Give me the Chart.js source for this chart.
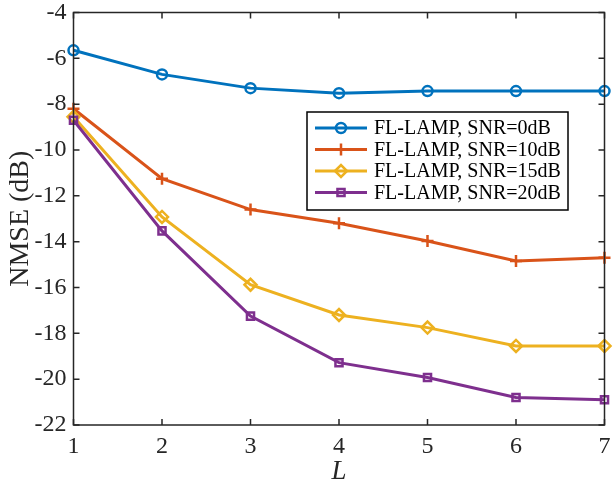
<!DOCTYPE html>
<html>
<head>
<meta charset="utf-8">
<script src="https://cdn.jsdelivr.net/npm/chart.js@4/dist/chart.umd.min.js"></script>
<style>
  html, body { margin: 0; padding: 0; background: #fff; }
  #wrap { width: 615px; height: 482px; }
</style>
</head>
<body>
<div id="wrap"><canvas id="myChart" width="615" height="482"></canvas></div>
<script>
// NMSE (dB) vs L
var L = [1, 2, 3, 4, 5, 6, 7];
var snr0  = [-5.65, -6.7, -7.3, -7.52, -7.43, -7.43, -7.43];
var snr10 = [-8.2, -11.25, -12.6, -13.2, -13.97, -14.84, -14.7];
var snr15 = [-8.55, -12.92, -15.88, -17.2, -17.75, -18.55, -18.55];
var snr20 = [-8.7, -13.53, -17.25, -19.28, -19.93, -20.8, -20.9];
var labels = ['FL-LAMP, SNR=0dB', 'FL-LAMP, SNR=10dB', 'FL-LAMP, SNR=15dB', 'FL-LAMP, SNR=20dB'];
var yTicks = [-22, -20, -18, -16, -14, -12, -10, -8, -6, -4];

var serif = "'Liberation Serif', 'Times New Roman', serif";

function pts(arr) {
    return L.map(function (x, i) { return { x: x, y: arr[i] }; });
}

function series(label, data, color, style, radius, order) {
    return {
        label: label,
        data: pts(data),
        borderColor: color,
        backgroundColor: color,
        borderWidth: 3,
        pointStyle: style,
        pointRadius: radius,
        pointHoverRadius: radius,
        pointBorderWidth: 2.5,
        pointBorderColor: color,
        pointBackgroundColor: 'rgba(0,0,0,0)',
        clip: false,
        order: order
    };
}

// box + inward ticks on all four sides, MATLAB style
var boxPlugin = {
    id: 'box',
    afterDatasetsDraw: function (chart) {
        var ctx = chart.ctx, a = chart.chartArea;
        var xs = chart.scales.x, ys = chart.scales.y;
        ctx.save();
        ctx.strokeStyle = '#262626';
        ctx.lineWidth = 1.5;
        ctx.strokeRect(a.left, a.top, a.right - a.left, a.bottom - a.top);
        ctx.beginPath();
        L.forEach(function (v) {
            var px = xs.getPixelForValue(v);
            ctx.moveTo(px, a.bottom); ctx.lineTo(px, a.bottom - 6);
            ctx.moveTo(px, a.top); ctx.lineTo(px, a.top + 6);
        });
        yTicks.forEach(function (v) {
            var py = ys.getPixelForValue(v);
            ctx.moveTo(a.left, py); ctx.lineTo(a.left + 6, py);
            ctx.moveTo(a.right, py); ctx.lineTo(a.right - 6, py);
        });
        ctx.stroke();
        ctx.restore();
    }
};

// legend box inside the plot
var legendPlugin = {
    id: 'boxLegend',
    afterDraw: function (chart) {
        var ctx = chart.ctx;
        var x0 = 307, y0 = 112, w = 261, h = 98;
        ctx.save();
        ctx.fillStyle = '#fff';
        ctx.fillRect(x0, y0, w, h);
        ctx.strokeStyle = '#000';
        ctx.lineWidth = 1.5;
        ctx.strokeRect(x0, y0, w, h);
        chart.data.datasets.forEach(function (ds, i) {
            var y = 128 + i * 21.5;
            ctx.strokeStyle = ds.borderColor;
            ctx.lineWidth = 3;
            ctx.beginPath();
            ctx.moveTo(315, y);
            ctx.lineTo(367, y);
            ctx.stroke();
            ctx.fillStyle = 'rgba(0,0,0,0)';
            ctx.strokeStyle = ds.borderColor;
            ctx.lineWidth = 2.5;
            Chart.helpers.drawPoint(ctx, {
                pointStyle: ds.pointStyle,
                radius: ds.pointRadius,
                borderWidth: 2.5,
                rotation: 0
            }, 341, y);
            ctx.fillStyle = '#000';
            ctx.font = '20px ' + serif;
            ctx.textBaseline = 'middle';
            ctx.textAlign = 'left';
            ctx.fillText(ds.label, 374, y + 1);
        });
        ctx.restore();
    }
};

var ctx = document.getElementById('myChart').getContext('2d');

var mychart = new Chart(ctx, {
    type: 'line',
    data: {
        datasets: [
            series(labels[0], snr0, '#0072BD', 'circle', 5, 3),
            series(labels[1], snr10, '#D95319', 'cross', 6, 2),
            series(labels[2], snr15, '#EDB120', 'rectRot', 6, 1),
            series(labels[3], snr20, '#7E2F8E', 'rect', 5, 0)
        ]
    },
    options: {
        responsive: false,
        animation: false,
        layout: { padding: 0 },
        plugins: {
            legend: { display: false },
            tooltip: { enabled: false }
        },
        scales: {
            x: {
                type: 'linear',
                min: 1,
                max: 7,
                grid: { display: false, drawTicks: false },
                border: { display: false },
                afterFit: function (s) {
                    s.height = 57;
                    s.paddingLeft = 0;
                    s.paddingRight = 10.5;
                },
                ticks: {
                    stepSize: 1,
                    padding: 10,
                    color: '#262626',
                    font: { family: serif, size: 24, lineHeight: 1 }
                },
                title: {
                    display: true,
                    text: 'L',
                    color: '#262626',
                    padding: { top: 0, bottom: -3 },
                    font: { family: serif, size: 27, style: 'italic', lineHeight: 1 }
                }
            },
            y: {
                min: -22,
                max: -4,
                grid: { display: false, drawTicks: false },
                border: { display: false },
                afterFit: function (s) {
                    s.width = 73.5;
                    s.paddingTop = 12.5;
                    s.paddingBottom = 0;
                },
                ticks: {
                    stepSize: 2,
                    padding: 7,
                    color: '#262626',
                    font: { family: serif, size: 24, lineHeight: 1 }
                },
                title: {
                    display: true,
                    text: 'NMSE (dB)',
                    color: '#262626',
                    padding: { top: 4, bottom: 0 },
                    font: { family: serif, size: 28, lineHeight: 1.2 }
                }
            }
        }
    },
    plugins: [boxPlugin, legendPlugin]
});
</script>
</body>
</html>
